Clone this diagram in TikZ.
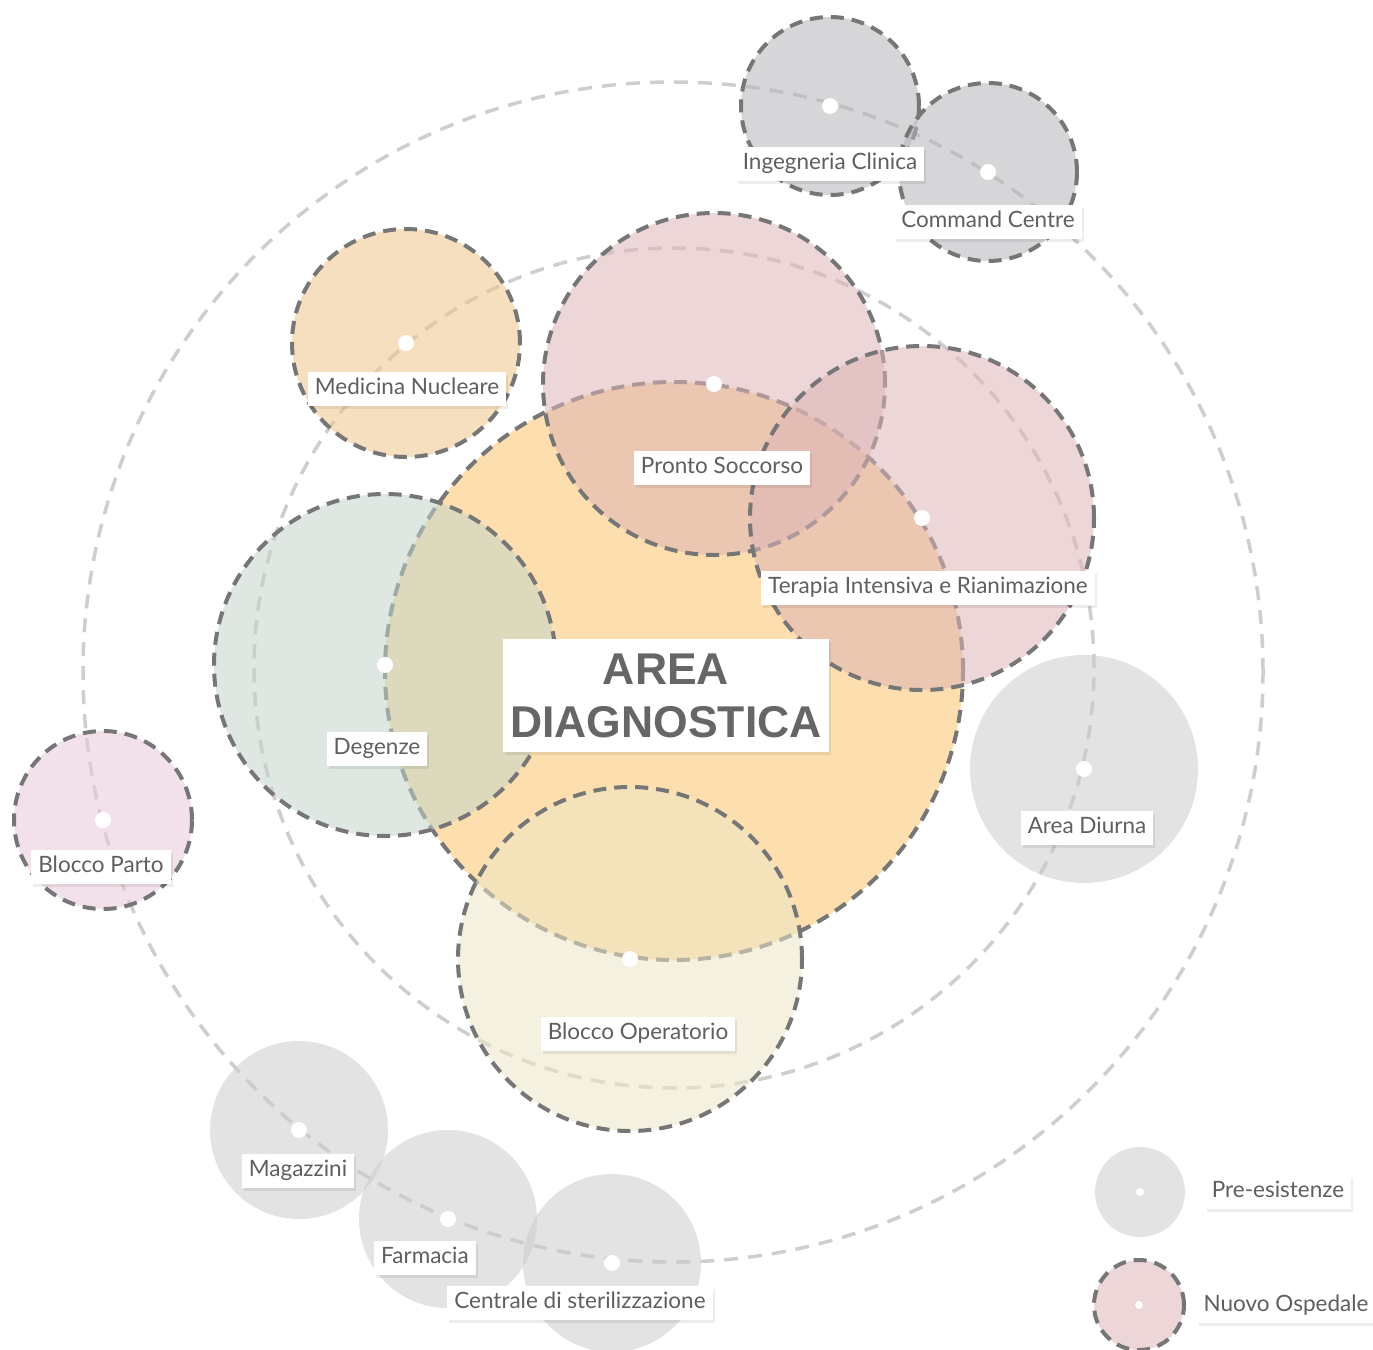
\documentclass[tikz,border=0pt]{standalone}
\usepackage{fontspec}
\setmainfont{Lato}
\newfontfamily\areafont{Liberation Sans}
\usetikzlibrary{shadows}
\definecolor{orbitc}{RGB}{206,206,206}
\definecolor{bordc}{RGB}{118,118,118}
\definecolor{labc}{RGB}{95,95,95}
\definecolor{adc}{RGB}{253,222,174}
\definecolor{pinkc}{RGB}{222,181,183}
\definecolor{greenc}{RGB}{195,213,202}
\definecolor{creamc}{RGB}{237,230,199}
\definecolor{mnc}{RGB}{240,197,140}
\definecolor{grayac}{RGB}{181,182,186}
\definecolor{graybc}{RGB}{204,204,204}
\definecolor{bpc}{RGB}{233,202,219}
\definecolor{titlec}{RGB}{102,102,102}
\begin{document}
\begin{tikzpicture}[x=1pt,y=-1pt,
  orbit/.style={circle, inner sep=0pt, outer sep=0pt, draw=orbitc, line width=3.5pt, dash pattern=on 14pt off 10pt},
  zone/.style={circle, inner sep=0pt, outer sep=0pt, fill opacity=0.55},
  bord/.style={draw=bordc, draw opacity=1, line width=4pt, dash pattern=on 13pt off 8pt},
  dot/.style={circle, fill=white, inner sep=0pt, minimum size=16pt},
  sdot/.style={circle, fill=white, inner sep=0pt, minimum size=8pt},
  softshadow/.style={drop shadow={shadow xshift=2pt, shadow yshift=-3pt, opacity=0.07, fill=black}},
  lab/.style={fill=white, text=labc, inner xsep=7pt, inner ysep=0pt, minimum height=34pt,
    text height=16pt, text depth=5pt, font=\fontsize{22.5}{26}\selectfont, softshadow}
]
\useasboundingbox (0,0) rectangle (1373,1349);
\fill[white] (0,0) rectangle (1373,1349);

% orbits
\node[orbit, minimum size=1180pt] (orbOut) at (673,672) {};
\node[orbit, minimum size=840pt] (orbMid) at (674,668) {};

% central area
\node[circle, inner sep=0pt, outer sep=0pt, fill=adc, bord, minimum size=578pt] (ad) at (674,671) {};

% zones
\node[zone, fill=mnc, bord, minimum size=228pt] (mn) at (406,343) {};
\node[zone, fill=pinkc, bord, minimum size=342pt] (ps) at (714,384) {};
\node[zone, fill=pinkc, bord, minimum size=344pt] (ti) at (922,518) {};
\node[zone, fill=greenc, bord, minimum size=342pt] (dg) at (385,665) {};
\node[zone, fill=creamc, bord, minimum size=344pt] (bo) at (630,959) {};
\node[zone, fill=grayac, bord, minimum size=178pt] (ic) at (830,106) {};
\node[zone, fill=grayac, bord, minimum size=178pt] (cc) at (988,172) {};
\node[zone, fill=bpc, bord, minimum size=178pt] (bp) at (103,820) {};
\node[zone, fill=graybc, minimum size=228pt] (dn) at (1084,769) {};
\node[zone, fill=graybc, minimum size=178pt] (mg) at (299,1130) {};
\node[zone, fill=graybc, minimum size=178pt] (fa) at (448,1219) {};
\node[zone, fill=graybc, minimum size=178pt] (cs) at (612,1263) {};

% legend circles
\node[zone, fill=graybc, minimum size=90pt] (lg1) at (1140,1192) {};
\node[zone, fill=pinkc, bord, minimum size=90pt] (lg2) at (1139,1305) {};

% dots
\foreach \n in {mn,ps,ti,dg,bo,ic,cc,bp,dn,mg,fa,cs}{
  \node[dot] at (\n.center) {};
}
\node[sdot] at (lg1.center) {};
\node[sdot] at (lg2.center) {};

% labels
\node[lab] (l-ic) at (830,164) {Ingegneria Clinica};
\node[lab] (l-cc) at (988,222) {Command Centre};
\node[lab] (l-mn) at (407,389) {Medicina Nucleare};
\node[lab] (l-ps) at (722,468) {Pronto Soccorso};
\node[lab] (l-ti) at (928,588) {Terapia Intensiva e Rianimazione};
\node[lab] (l-dg) at (377,749) {Degenze};
\node[lab] (l-dn) at (1087,828) {Area Diurna};
\node[lab] (l-bp) at (101,867) {Blocco Parto};
\node[lab] (l-bo) at (638,1034) {Blocco Operatorio};
\node[lab] (l-mg) at (298,1171) {Magazzini};
\node[lab] (l-fa) at (425,1258) {Farmacia};
\node[lab] (l-cs) at (580,1303) {Centrale di sterilizzazione};
\node[lab] (l-lg1) at (1278,1192) {Pre-esistenze};
\node[lab] (l-lg2) at (1286,1306) {Nuovo Ospedale};

\node[fill=white, text=titlec, minimum width=326pt, minimum height=113pt, inner sep=0pt,
  align=center, font=\areafont\bfseries\fontsize{44.5}{53}\selectfont, softshadow]
  (title) at (666,695.5) {AREA\\DIAGNOSTICA};
\end{tikzpicture}
\end{document}
